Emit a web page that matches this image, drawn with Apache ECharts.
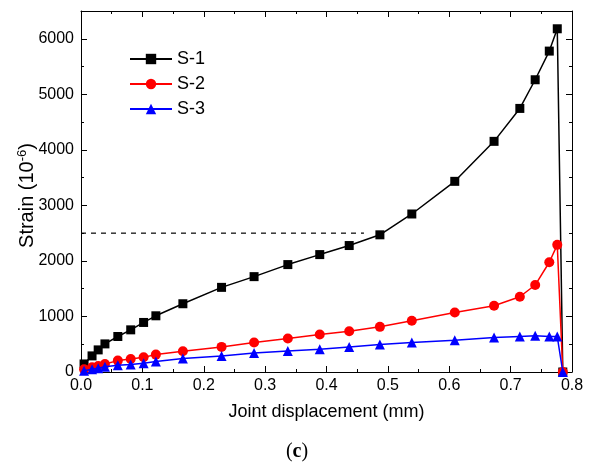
<!DOCTYPE html>
<html>
<head>
<meta charset="utf-8">
<script src="https://cdn.jsdelivr.net/npm/echarts@6/dist/echarts.min.js"></script>
<style>
  html, body { margin: 0; padding: 0; background: #fff; }
  #main { width: 594px; height: 468px; }
</style>
</head>
<body>
<div id="main"></div>
<script>
// joint displacement (mm), shared by all three gauges
const disp = [0.005, 0.018, 0.028, 0.039, 0.060, 0.081, 0.102, 0.122, 0.166, 0.229, 0.282,
  0.337, 0.389, 0.437, 0.487, 0.539, 0.609, 0.673, 0.715, 0.740, 0.763, 0.776, 0.785]
// strain (10^-6)
const s1 = [145, 290, 398, 506, 639, 759, 892, 1012, 1229, 1524, 1717,
  1934, 2114, 2277, 2470, 2845, 3433, 4153, 4746, 5262, 5778, 6180, 0]
const s2 = [48, 84, 108, 145, 205, 235, 265, 313, 373, 452, 530,
  602, 675, 735, 813, 922, 1072, 1193, 1355, 1566, 1976, 2289, 0]
const s3 = [24, 48, 66, 96, 120, 133, 157, 187, 241, 289, 343,
  380, 410, 452, 494, 530, 572, 620, 639, 651, 639, 639, 0]
// dashed reference line
const refX = [0, 0.461]
const refY = 2500

const xTicks = ['0.0', '0.1', '0.2', '0.3', '0.4', '0.5', '0.6', '0.7', '0.8']

const font = 'Liberation Sans, Arial, sans-serif'
const pairs = (ys) => disp.map((x, i) => [x, ys[i]])

const tickStyle = {
  axisLine: { show: true, onZero: false, lineStyle: { color: '#000', width: 1 } },
  axisTick: { show: true, inside: true, length: 6, lineStyle: { color: '#000' } },
  minorTick: { show: true, splitNumber: 2, length: 3, lineStyle: { color: '#000' } },
  splitLine: { show: false },
  minorSplitLine: { show: false },
}

const chart = echarts.init(document.getElementById('main'))
chart.setOption({
  animation: false,
  backgroundColor: '#fff',
  grid: { left: 81, right: 22, top: 11, bottom: 96 },
  legend: {
    orient: 'vertical',
    left: 124,
    top: 45,
    itemWidth: 42,
    itemHeight: 13,
    itemGap: 7,
    data: ['S-1', 'S-2', 'S-3'],
    textStyle: { fontFamily: font, fontSize: 18, color: '#000' },
  },
  xAxis: [
    {
      type: 'value', min: 0, max: 0.8, interval: 0.1,
      name: 'Joint displacement (mm)', nameLocation: 'middle', nameGap: 31,
      nameTextStyle: { fontFamily: font, fontSize: 18, color: '#000' },
      axisLabel: {
        fontFamily: font, fontSize: 16, color: '#000', margin: 6,
        formatter: (v) => xTicks[Math.round(v * 10)],
      },
      ...tickStyle,
    },
    {
      type: 'value', position: 'top', min: 0, max: 0.8, interval: 0.1,
      axisLabel: { show: false },
      ...tickStyle,
    },
  ],
  yAxis: [
    {
      type: 'value', min: 0, max: 6500, interval: 1000,
      name: '{a|Strain (10}{b|-6}{a|)}', nameLocation: 'middle', nameGap: 42, nameRotate: 90,
      nameMoveOverlap: false,
      nameTextStyle: {
        padding: [0, 8, 0, 0],
        rich: {
          a: { fontFamily: font, fontSize: 20, color: '#000' },
          b: { fontFamily: font, fontSize: 13, color: '#000', padding: [0, 0, 10, 0] },
        },
      },
      axisLabel: {
        fontFamily: font, fontSize: 16, color: '#000', margin: 7,
        showMaxLabel: false,
        formatter: (v) => (v > 6000 ? '' : String(v)),
      },
      ...tickStyle,
    },
    {
      type: 'value', position: 'right', min: 0, max: 6500, interval: 1000,
      axisLabel: { show: false },
      ...tickStyle,
    },
  ],
  series: [
    {
      name: 'ref', type: 'line', data: refX.map((x) => [x, refY]),
      showSymbol: false, silent: true,
      lineStyle: { color: '#000', width: 1.2, type: [5, 5] },
      z: 1,
    },
    {
      name: 'S-1', type: 'line', data: pairs(s1),
      symbol: 'rect', symbolSize: 9,
      itemStyle: { color: '#000' },
      lineStyle: { color: '#000', width: 1.5 },
      z: 2,
    },
    {
      name: 'S-2', type: 'line', data: pairs(s2),
      symbol: 'circle', symbolSize: 10,
      itemStyle: { color: '#ff0000' },
      lineStyle: { color: '#ff0000', width: 1.5 },
      z: 3,
    },
    {
      name: 'S-3', type: 'line', data: pairs(s3),
      symbol: 'triangle', symbolSize: 10,
      itemStyle: { color: '#0000ff' },
      lineStyle: { color: '#0000ff', width: 1.5 },
      z: 4,
    },
  ],
  graphic: [
    {
      type: 'text', left: 'center', top: 442,
      style: {
        text: '({b|c})',
        fontFamily: 'Liberation Serif, serif', fontSize: 20, fill: '#000',
        rich: { b: { fontFamily: 'Liberation Serif, serif', fontSize: 20, fontWeight: 'bold' } },
      },
    },
  ],
})
</script>
</body>
</html>
